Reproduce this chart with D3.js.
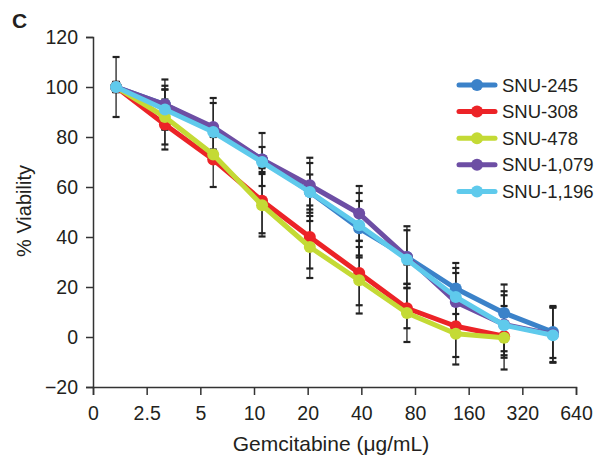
<!DOCTYPE html>
<html>
<head>
<meta charset="utf-8">
<script src="https://cdn.jsdelivr.net/npm/d3@7"></script>
<style>
  body { margin: 0; background: #fff; }
  text { font-family: "Liberation Sans", Arial, sans-serif; fill: #231f20; }
</style>
</head>
<body>
<div id="chart"></div>
<script>
// x tick labels (gemcitabine, ug/mL) and where each dose sits on that tick axis
var tickLabels = ["0", "2.5", "5", "10", "20", "40", "80", "160", "320", "640"];
var dosePos = [0.43, 1.34, 2.24, 3.15, 4.04, 4.96, 5.85, 6.76, 7.66, 8.57];

var seriesNames = ["SNU-245", "SNU-308", "SNU-478", "SNU-1,079", "SNU-1,196"];
var seriesColors = ["#3b82c9", "#ec2327", "#c4da35", "#6d4ea4", "#5fcaec"];

var snu245 = [100, 93, 83, 71, 58, 43.5, 32, 19.4, 9.6, 2];
var snu308 = [100, 85, 71, 54.5, 40, 25.6, 11.5, 4.3, 0.3, null];
var snu478 = [100, 88, 73, 52.7, 36, 22.7, 9.6, 1.3, -0.3, null];
var snu1079 = [100, 93, 84, 71, 60.7, 49.4, 32, 14, 5, 1];
var snu1196 = [100, 91, 82, 70, 58, 44.7, 31, 16, 4.7, 0.7];

var err245 = [12, 10, 10.6, 10.6, 11.6, 10.9, 12.3, 10.2, 11.4, 10.4];
var err308 = [2, 10, 11, 13, 12.6, 12.9, 8, 12.3, 6, null];
var err478 = [2, 11, 2, 12.5, 12.4, 13.3, 11.6, 12.3, 12.7, null];
var err1079 = [2, 7.5, 11.6, 5, 11, 11, 10.7, 11.6, 13.3, 11];
var err1196 = [2, 8, 2, 2, 7, 12.9, 2, 11.6, 12, 11];

var yTicks = [-20, 0, 20, 40, 60, 80, 100, 120];

var allValues = [snu245, snu308, snu478, snu1079, snu1196];
var allErrors = [err245, err308, err478, err1079, err1196];

var svgWidth = 597;
var svgHeight = 455;
var margin = { top: 37, right: 21, bottom: 68, left: 93 };
var width = svgWidth - margin.left - margin.right;
var height = svgHeight - margin.top - margin.bottom;

var svg = d3.select("#chart")
    .append("svg")
    .attr("width", svgWidth)
    .attr("height", svgHeight);

var chartGroup = svg.append("g")
    .attr("transform", `translate(${margin.left}, ${margin.top})`);

var xScale = d3.scaleLinear().domain([0, 9]).range([0, width]);
var yScale = d3.scaleLinear().domain([-20, 120]).range([height, 0]);

// build one record per series
var series = seriesNames.map(function(name, i) {
    return {
        name: name,
        color: seriesColors[i],
        points: allValues[i].map(function(v, j) {
            return { x: dosePos[j], y: v, e: allErrors[i][j] };
        }).filter(d => d.y !== null)
    };
});

// axes
var bottomAxis = d3.axisBottom(xScale)
    .tickValues(d3.range(tickLabels.length))
    .tickFormat(i => tickLabels[i])
    .tickSize(8)
    .tickPadding(11);
var leftAxis = d3.axisLeft(yScale)
    .tickValues(yTicks)
    .tickFormat(d => d < 0 ? "\u2212" + Math.abs(d) : d)
    .tickSize(7)
    .tickPadding(8);

var xAxis = chartGroup.append("g")
    .attr("transform", `translate(0, ${height})`)
    .call(bottomAxis);
var yAxis = chartGroup.append("g")
    .call(leftAxis);

[xAxis, yAxis].forEach(function(ax) {
    ax.select(".domain").attr("stroke", "#333").attr("stroke-width", 1.5);
    ax.selectAll(".tick line").attr("stroke", "#333").attr("stroke-width", 1.5);
    ax.selectAll(".tick text")
        .style("font-family", "Liberation Sans, Arial, sans-serif")
        .style("font-size", "19.5px")
        .attr("fill", "#231f20");
});

// error bars (behind lines)
var errGroup = chartGroup.append("g");
series.forEach(function(s) {
    var g = errGroup.selectAll(null)
        .data(s.points)
        .enter()
        .append("g");
    g.append("line")
        .attr("x1", d => xScale(d.x))
        .attr("x2", d => xScale(d.x))
        .attr("y1", d => yScale(d.y + d.e))
        .attr("y2", d => yScale(d.y - d.e))
        .attr("stroke", "#222")
        .attr("stroke-width", 1.3);
    [1, -1].forEach(function(sign) {
        g.append("line")
            .attr("x1", d => xScale(d.x) - 3.5)
            .attr("x2", d => xScale(d.x) + 3.5)
            .attr("y1", d => yScale(d.y + sign * d.e))
            .attr("y2", d => yScale(d.y + sign * d.e))
            .attr("stroke", "#222")
            .attr("stroke-width", 2.2);
    });
});

// lines and markers
var line = d3.line()
    .x(d => xScale(d.x))
    .y(d => yScale(d.y));

series.forEach(function(s) {
    chartGroup.append("path")
        .datum(s.points)
        .attr("d", line)
        .attr("fill", "none")
        .attr("stroke", s.color)
        .attr("stroke-width", 5)
        .attr("stroke-linejoin", "round");
    chartGroup.selectAll(null)
        .data(s.points)
        .enter()
        .append("circle")
        .attr("cx", d => xScale(d.x))
        .attr("cy", d => yScale(d.y))
        .attr("r", 6)
        .attr("fill", s.color);
});

// legend
var legend = svg.append("g")
    .attr("transform", "translate(459, 85)");
var rows = legend.selectAll("g")
    .data(series)
    .enter()
    .append("g")
    .attr("transform", (d, i) => `translate(0, ${i * 26.6})`);
rows.append("line")
    .attr("x1", 0)
    .attr("x2", 36)
    .attr("stroke", d => d.color)
    .attr("stroke-width", 5)
    .attr("stroke-linecap", "round");
rows.append("circle")
    .attr("cx", 18)
    .attr("r", 6)
    .attr("fill", d => d.color);
rows.append("text")
    .attr("x", 43)
    .attr("dy", "0.36em")
    .style("font-size", "18.5px")
    .text(d => d.name);

// axis titles
svg.append("text")
    .attr("transform", "translate(31, 211) rotate(-90)")
    .style("text-anchor", "middle")
    .style("font-size", "20px")
    .text("% Viability");

svg.append("text")
    .attr("x", 331)
    .attr("y", 451)
    .style("text-anchor", "middle")
    .style("font-size", "21px")
    .text("Gemcitabine (\u03bcg/mL)");

// panel letter
svg.append("text")
    .attr("x", 12)
    .attr("y", 28)
    .style("font-size", "21px")
    .style("font-weight", "bold")
    .text("C");
</script>
</body>
</html>
